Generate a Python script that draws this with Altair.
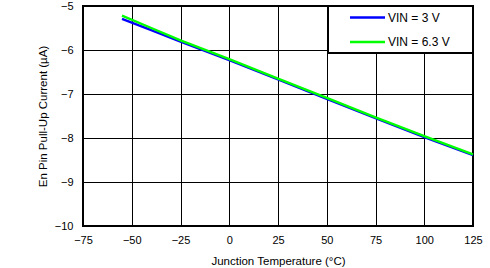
import altair as alt
import pandas as pd

temps = [-55, -40, -25, 0, 25, 50, 75, 100, 125]
vin3 = [-5.29, -5.55, -5.81, -6.23, -6.67, -7.11, -7.55, -7.98, -8.39]
vin63 = [-5.22, -5.50, -5.78, -6.21, -6.65, -7.09, -7.53, -7.96, -8.37]
series_names = ["VIN = 3 V", "VIN = 6.3 V"]
series_colors = ["#0000FF", "#00FF00"]
x_ticks = [-75, -50, -25, 0, 25, 50, 75, 100, 125]
y_ticks = [-10, -9, -8, -7, -6, -5]

rows = []
for name, vals in zip(series_names, [vin3, vin63]):
    for t, v in zip(temps, vals):
        rows.append({"T": t, "I": v, "series": name})
df = pd.DataFrame(rows)

FONT = "Liberation Sans"

lines = alt.Chart(df).mark_line(strokeWidth=2.4).encode(
    x=alt.X("T:Q", scale=alt.Scale(domain=[-75, 125], nice=False, zero=False),
            axis=alt.Axis(values=x_ticks, title="Junction Temperature (°C)",
                          grid=True, ticks=False, domain=False, labelPadding=8,
                          titlePadding=10, format="d", labelFlush=False)),
    y=alt.Y("I:Q", scale=alt.Scale(domain=[-10, -5], nice=False, zero=False),
            axis=alt.Axis(values=y_ticks, title="En Pin Pull-Up Current (µA)",
                          grid=True, ticks=False, domain=False, labelPadding=10,
                          titlePadding=6, format="d", labelFlush=False)),
    color=alt.Color("series:N", scale=alt.Scale(domain=series_names, range=series_colors),
                    legend=None),
    order=alt.Order("series:N"),
)

one = pd.DataFrame({"a": [0]})
legend_box = alt.Chart(one).mark_rect(fill="white", stroke="black", strokeWidth=2).encode(
    x=alt.value(245), x2=alt.value(390), y=alt.value(0), y2=alt.value(47)
)

legend_layers = [legend_box]
for i, (name, col) in enumerate(zip(series_names, series_colors)):
    yy = 11.5 + i * 24.5
    legend_layers.append(
        alt.Chart(one).mark_rule(color=col, strokeWidth=2.4).encode(
            x=alt.value(267), x2=alt.value(302), y=alt.value(yy)
        )
    )
    legend_layers.append(
        alt.Chart(pd.DataFrame({"label": [name]})).mark_text(
            align="left", baseline="middle", font=FONT, fontSize=12, color="black"
        ).encode(x=alt.value(305), y=alt.value(yy), text="label:N")
    )

chart = alt.layer(lines, *legend_layers).properties(
    width=390, height=220,
    autosize=alt.AutoSizeParams(type="none"),
    padding={"left": 83, "top": 6, "right": 17, "bottom": 42},
).configure_view(
    stroke="black", strokeWidth=2
).configure_axis(
    gridColor="black", gridOpacity=1, gridWidth=1,
    labelFont=FONT, labelFontSize=11, labelColor="black",
    titleFont=FONT, titleFontSize=11.5, titleColor="black", titleFontWeight="normal",
)

chart.save("out.html", embed_options={"renderer": "svg", "actions": False})
